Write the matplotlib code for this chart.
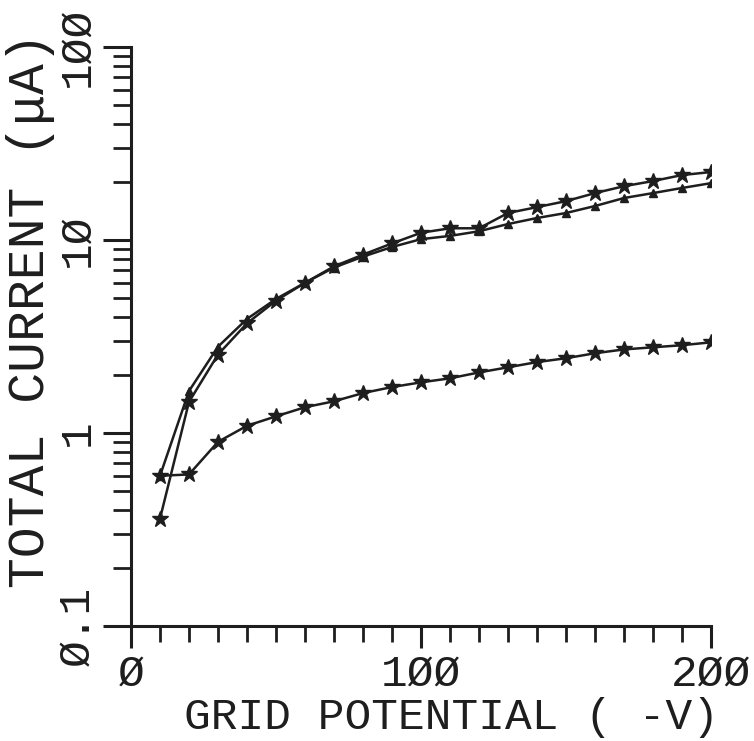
import matplotlib
matplotlib.use("Agg")
import matplotlib.pyplot as plt
from matplotlib.ticker import FixedLocator, FixedFormatter, NullFormatter

# ---- data ----
grid_potential = [10, 20, 30, 40, 50, 60, 70, 80, 90, 100,
                  110, 120, 130, 140, 150, 160, 170, 180, 190, 200]
current_star_upper = [0.36, 1.45, 2.55, 3.7, 4.85, 6.0, 7.3, 8.4, 9.6, 10.9,
                      11.5, 11.5, 13.8, 14.8, 15.9, 17.5, 19.0, 20.2, 21.7, 22.5]
current_tri_upper = [0.6, 1.65, 2.8, 3.9, 4.95, 6.0, 7.2, 8.2, 9.2, 10.1,
                     10.5, 11.1, 12.1, 13.0, 13.8, 15.0, 16.5, 17.5, 18.6, 19.7]
current_star_lower = [0.6, 0.61, 0.90, 1.09, 1.22, 1.36, 1.46, 1.61, 1.73, 1.83,
                      1.92, 2.06, 2.19, 2.33, 2.44, 2.59, 2.71, 2.78, 2.85, 2.95]

x_major = [0, 100, 200]
x_major_labels = ["\u00d8", "1\u00d8\u00d8", "2\u00d8\u00d8"]
y_major = [0.1, 1, 10, 100]
y_major_labels = ["\u00d8.1", "1", "1\u00d8", "1\u00d8\u00d8"]
x_title = "GRID POTENTIAL ( -V)"
y_title = "TOTAL CURRENT (\u03bcA)"

ink = "#1e1e1e"
font = ["Liberation Mono", "DejaVu Sans Mono"]

fig = plt.figure(figsize=(7.54, 7.41), dpi=100)
ax = fig.add_axes([131/754, 1 - 626/741, (711-131)/754, (626-47)/741])

ax.plot(grid_potential, current_tri_upper, color=ink, lw=1.8,
        marker="^", ms=6, mfc=ink, mec=ink)
ax.plot(grid_potential, current_star_upper, color=ink, lw=1.8,
        marker="*", ms=12, mfc=ink, mec=ink)
ax.plot(grid_potential, current_star_lower, color=ink, lw=1.8,
        marker="*", ms=12, mfc=ink, mec=ink)

ax.set_yscale("log")
ax.set_xlim(0, 200)
ax.set_ylim(0.1, 100)

for s in ["top", "right"]:
    ax.spines[s].set_visible(False)
for s in ["left", "bottom"]:
    ax.spines[s].set_linewidth(2.2)
    ax.spines[s].set_color(ink)

ax.xaxis.set_major_locator(FixedLocator(x_major))
ax.xaxis.set_major_formatter(FixedFormatter(x_major_labels))
ax.xaxis.set_minor_locator(FixedLocator(list(range(10, 200, 10))))
ax.yaxis.set_major_locator(FixedLocator(y_major))
ax.yaxis.set_major_formatter(FixedFormatter(y_major_labels))
minor_y = [m * d for d in (0.1, 1, 10) for m in range(2, 10)]
ax.yaxis.set_minor_locator(FixedLocator(minor_y))
ax.yaxis.set_minor_formatter(NullFormatter())

ax.tick_params(axis="x", which="major", direction="out", length=16, width=2.2,
               color=ink, pad=4, labelsize=32, labelcolor=ink)
ax.tick_params(axis="x", which="minor", direction="out", length=11.5, width=2.0,
               color=ink)
ax.tick_params(axis="y", which="major", direction="out", length=20, width=2.2,
               color=ink, pad=4, labelsize=32, labelcolor=ink)
ax.tick_params(axis="y", which="minor", direction="out", length=13, width=2.0,
               color=ink)

for lab in ax.get_xticklabels():
    lab.set_fontfamily(font)
for lab in ax.get_yticklabels():
    lab.set_fontfamily(font)
    lab.set_rotation(90)
    lab.set_va("center")

fig.text((185 + 718) / 2 / 754, 1 - 718/741, x_title, fontsize=32,
         family=font, color=ink, ha="center", va="center")
fig.text(31/754, 1 - 310/741, y_title, fontsize=37, family=font, color=ink,
         ha="center", va="center", rotation=90)

fig.savefig("out.png", dpi=100)
